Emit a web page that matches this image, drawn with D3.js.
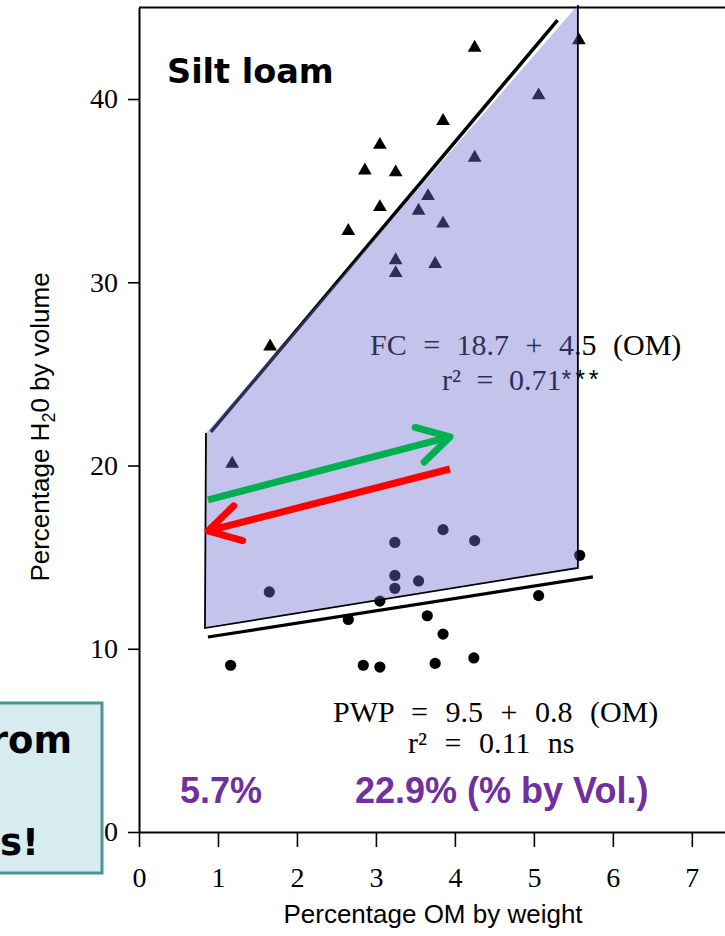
<!DOCTYPE html>
<html>
<head>
<meta charset="utf-8">
<script src="https://cdn.jsdelivr.net/npm/d3@7/dist/d3.min.js"></script>
<style>
  html, body { margin: 0; padding: 0; background: #fff; }
  svg { display: block; }
</style>
</head>
<body>
<svg id="chart" width="725" height="936"></svg>
<script>
// ---------- data ----------
const xTicks = [0, 1, 2, 3, 4, 5, 6, 7];
const yTicks = [0, 10, 20, 30, 40];

// Field capacity points (triangles): % OM, % H2O by volume
const fcOM  = [1.18, 1.66, 2.65, 2.86, 3.05, 3.05, 3.25, 3.25, 3.25, 3.54, 3.66, 3.75, 3.85, 3.85, 4.25, 4.25, 5.06, 5.57];
const fcH2O = [20.1, 26.5, 32.8, 36.1, 37.5, 34.1, 36.0, 31.2, 30.5, 33.9, 34.7, 31.0, 38.8, 33.2, 42.8, 36.8, 40.2, 43.2];

// Permanent wilting point points (circles)
const pwpOM  = [1.16, 1.65, 2.65, 2.84, 3.05, 3.05, 3.24, 3.24, 3.24, 3.54, 3.65, 3.75, 3.85, 3.85, 4.25, 4.24, 5.06, 5.58];
const pwpH2O = [9.1, 13.1, 11.6, 9.1, 9.0, 12.6, 15.8, 14.0, 13.3, 13.7, 11.8, 9.2, 16.5, 10.8, 15.9, 9.5, 12.9, 15.1];

// Fitted lines (endpoints as drawn)
const fcLineOM  = [0.91, 5.30];
const fcLineH2O = [21.83, 44.31];
const pwpLineOM  = [0.873, 5.747];
const pwpLineH2O = [10.64, 13.92];

// Available-water band (shaded polygon)
const bandOM  = [0.848, 5.557, 5.557, 0.835];
const bandH2O = [21.77, 45.13, 14.41, 11.13];

// Arrows [start, tip]
const greenArrowOM  = [0.873, 3.937];
const greenArrowH2O = [18.12, 21.56];
const redArrowOM  = [3.937, 0.873];
const redArrowH2O = [19.81, 16.43];

// ---------- layout ----------
const svg = d3.select("#chart");
const x = d3.scaleLinear().domain([0, 7.42]).range([139, 725]);
const y = d3.scaleLinear().domain([0, 45]).range([832, 7.4]);

const serif = "'Liberation Serif', 'Times New Roman', serif";
const sans = "'Liberation Sans', Arial, sans-serif";
const verd = "'DejaVu Sans', Verdana, sans-serif";

// ---------- axes ----------
const gx = svg.append("g").attr("transform", `translate(0,${y(0)})`)
  .call(d3.axisBottom(x).tickValues(xTicks).tickFormat(d3.format("d"))
    .tickSize(15).tickPadding(20).tickSizeOuter(0));
const gy = svg.append("g").attr("transform", `translate(${x(0)},0)`)
  .call(d3.axisLeft(y).tickValues(yTicks).tickFormat(d3.format("d"))
    .tickSize(11).tickPadding(10).tickSizeOuter(0));
[gx, gy].forEach(g => {
  g.select(".domain").attr("stroke", "#000").attr("stroke-width", 2);
  g.selectAll(".tick line").attr("stroke", "#000").attr("stroke-width", 1.6);
  g.selectAll(".tick text").attr("fill", "#000")
    .style("font-family", serif).style("font-size", "28px");
});
// top frame line
svg.append("line")
  .attr("x1", x(0)).attr("x2", x(7.42))
  .attr("y1", y(45)).attr("y2", y(45))
  .attr("stroke", "#000").attr("stroke-width", 2);

// axis titles
svg.append("text")
  .attr("x", 433).attr("y", 923)
  .attr("text-anchor", "middle")
  .style("font-family", sans).style("font-size", "26px")
  .text("Percentage OM by weight");

const yl = svg.append("text")
  .attr("transform", "translate(49,427) rotate(-90)")
  .attr("text-anchor", "middle")
  .style("font-family", sans).style("font-size", "26px");
yl.append("tspan").text("Percentage H");
yl.append("tspan").attr("dy", 6).style("font-size", "18px").text("2");
yl.append("tspan").attr("dy", -6).text("0 by volume");

// ---------- equations (beneath the band overlay) ----------
svg.append("text")
  .attr("x", 370).attr("y", 355)
  .style("font-family", serif).style("font-size", "30px")
  .style("word-spacing", "9px").attr("fill", "#000")
  .text("FC = 18.7 + 4.5 (OM)");
const r1 = svg.append("text")
  .attr("x", 442).attr("y", 390)
  .style("font-family", serif).style("font-size", "30px")
  .style("word-spacing", "8px").attr("fill", "#000");
r1.append("tspan").text("r² = 0.71");
r1.append("tspan").style("font-family", sans).style("font-size", "25px")
  .style("letter-spacing", "4px").attr("dy", -2).text("***");

svg.append("text")
  .attr("x", 333).attr("y", 722)
  .style("font-family", serif).style("font-size", "30px")
  .style("word-spacing", "10px").attr("fill", "#000")
  .text("PWP = 9.5 + 0.8 (OM)");
svg.append("text")
  .attr("x", 408).attr("y", 753)
  .style("font-family", serif).style("font-size", "30px")
  .style("word-spacing", "10px").attr("fill", "#000")
  .text("r² = 0.11 ns");

// ---------- points ----------
const tri = d3.symbol(d3.symbolTriangle, 82);
svg.append("g").selectAll("path")
  .data(fcOM.map((d, i) => [d, fcH2O[i]]))
  .join("path")
  .attr("d", tri)
  .attr("transform", d => `translate(${x(d[0])},${y(d[1])})`)
  .attr("fill", "#000");

svg.append("g").selectAll("circle")
  .data(pwpOM.map((d, i) => [d, pwpH2O[i]]))
  .join("circle")
  .attr("cx", d => x(d[0])).attr("cy", d => y(d[1]))
  .attr("r", 5.6).attr("fill", "#000");

// ---------- regression lines ----------
const line = d3.line().x(d => x(d[0])).y(d => y(d[1]));
svg.append("path")
  .attr("d", line(fcLineOM.map((d, i) => [d, fcLineH2O[i]])))
  .attr("stroke", "#000").attr("stroke-width", 3.5).attr("fill", "none");
svg.append("path")
  .attr("d", line(pwpLineOM.map((d, i) => [d, pwpLineH2O[i]])))
  .attr("stroke", "#000").attr("stroke-width", 3.2).attr("fill", "none");

// ---------- band overlay ----------
const band = bandOM.map((d, i) => [d, bandH2O[i]]);
svg.append("path")
  .attr("d", line(band) + "Z")
  .attr("fill", "rgb(110,110,208)").attr("fill-opacity", 0.41)
  .attr("stroke", "none");
// edges: right, bottom, left
svg.append("path")
  .attr("d", line([band[1], band[2], band[3], band[0]]))
  .attr("fill", "none").attr("stroke", "#000").attr("stroke-width", 1.8)
  .attr("stroke-linejoin", "miter");

// ---------- arrows ----------
function arrow(oms, h2os, color) {
  const p0 = [x(oms[0]), y(h2os[0])];
  const p1 = [x(oms[1]), y(h2os[1])];
  const ang = Math.atan2(p0[1] - p1[1], p0[0] - p1[0]);
  const L = 36, spread = 0.52;
  const a1 = [p1[0] + L * Math.cos(ang + spread), p1[1] + L * Math.sin(ang + spread)];
  const a2 = [p1[0] + L * Math.cos(ang - spread), p1[1] + L * Math.sin(ang - spread)];
  const g = svg.append("g").attr("fill", "none").attr("stroke", color)
    .attr("stroke-width", 7).attr("stroke-linecap", "round").attr("stroke-linejoin", "round");
  g.append("path").attr("d", d3.line()([p0, p1])).attr("stroke-linecap", "butt");
  g.append("path").attr("d", d3.line()([a1, p1, a2]));
}
arrow(greenArrowOM, greenArrowH2O, "#00b050");
arrow(redArrowOM, redArrowH2O, "#ff0000");

// ---------- labels ----------
svg.append("text")
  .attr("x", 167).attr("y", 83)
  .style("font-family", verd).style("font-weight", "bold").style("font-size", "33.5px")
  .text("Silt loam");

const purple = "#7030a0";
svg.append("text")
  .attr("x", 180).attr("y", 803)
  .style("font-family", sans).style("font-weight", "bold").style("font-size", "36px")
  .attr("fill", purple).text("5.7%");
svg.append("text")
  .attr("x", 355).attr("y", 803)
  .style("font-family", sans).style("font-weight", "bold").style("font-size", "36px")
  .attr("fill", purple).text("22.9% (% by Vol.)");

// side note box (its left part lies outside the picture)
svg.append("rect")
  .attr("x", -20).attr("y", 703).attr("width", 122).attr("height", 170)
  .attr("fill", "#d6ecf0").attr("stroke", "#4a9494").attr("stroke-width", 3);
svg.append("text")
  .attr("x", 72).attr("y", 753).attr("text-anchor", "end")
  .style("font-family", verd).style("font-weight", "bold").style("font-size", "37px")
  .text("rom");
svg.append("text")
  .attr("x", 39).attr("y", 855).attr("text-anchor", "end")
  .style("font-family", verd).style("font-weight", "bold").style("font-size", "37px")
  .text("es!");
</script>
</body>
</html>
